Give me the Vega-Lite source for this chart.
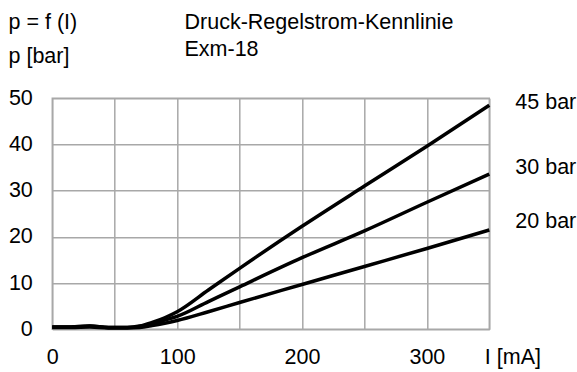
{
  "$schema": "https://vega.github.io/schema/vega-lite/v6.json",
  "autosize": "none",
  "width": 437,
  "height": 231,
  "padding": {"left": 52.3, "top": 98.3, "right": 87.7, "bottom": 42.7},
  "background": "white",
  "config": {
    "font": "Liberation Sans",
    "view": {"stroke": "#a8a8a8", "strokeWidth": 1.5},
    "axis": {"labelFont": "Liberation Sans", "titleFont": "Liberation Sans", "labelColor": "black", "titleColor": "black", "labelFontSize": 21.5, "titleFontSize": 21.5, "titleFontWeight": "normal", "domain": false, "ticks": false, "gridColor": "#a8a8a8", "gridWidth": 1.5, "gridOpacity": 1}
  },
  "resolve": {"scale": {"y": "independent"}, "axis": {"y": "independent"}},
  "datasets": {
    "curves": [
      {"I": 0, "p": 0.5, "s": "45 bar"}, {"I": 15, "p": 0.5, "s": "45 bar"}, {"I": 30, "p": 0.7, "s": "45 bar"}, {"I": 45, "p": 0.4, "s": "45 bar"}, {"I": 60, "p": 0.4, "s": "45 bar"}, {"I": 70, "p": 0.7, "s": "45 bar"}, {"I": 80, "p": 1.5, "s": "45 bar"}, {"I": 90, "p": 2.5, "s": "45 bar"}, {"I": 100, "p": 3.8, "s": "45 bar"}, {"I": 125, "p": 8.5, "s": "45 bar"}, {"I": 150, "p": 13.2, "s": "45 bar"}, {"I": 200, "p": 22.3, "s": "45 bar"}, {"I": 250, "p": 31.0, "s": "45 bar"}, {"I": 300, "p": 39.6, "s": "45 bar"}, {"I": 350, "p": 48.5, "s": "45 bar"},
      {"I": 0, "p": 0.5, "s": "30 bar"}, {"I": 15, "p": 0.5, "s": "30 bar"}, {"I": 30, "p": 0.7, "s": "30 bar"}, {"I": 45, "p": 0.4, "s": "30 bar"}, {"I": 60, "p": 0.4, "s": "30 bar"}, {"I": 70, "p": 0.6, "s": "30 bar"}, {"I": 80, "p": 1.2, "s": "30 bar"}, {"I": 90, "p": 2.0, "s": "30 bar"}, {"I": 100, "p": 2.8, "s": "30 bar"}, {"I": 125, "p": 6.0, "s": "30 bar"}, {"I": 150, "p": 9.2, "s": "30 bar"}, {"I": 200, "p": 15.5, "s": "30 bar"}, {"I": 250, "p": 21.3, "s": "30 bar"}, {"I": 300, "p": 27.5, "s": "30 bar"}, {"I": 350, "p": 33.6, "s": "30 bar"},
      {"I": 0, "p": 0.4, "s": "20 bar"}, {"I": 15, "p": 0.4, "s": "20 bar"}, {"I": 30, "p": 0.5, "s": "20 bar"}, {"I": 45, "p": 0.3, "s": "20 bar"}, {"I": 60, "p": 0.3, "s": "20 bar"}, {"I": 70, "p": 0.4, "s": "20 bar"}, {"I": 80, "p": 0.8, "s": "20 bar"}, {"I": 90, "p": 1.3, "s": "20 bar"}, {"I": 100, "p": 1.9, "s": "20 bar"}, {"I": 125, "p": 3.8, "s": "20 bar"}, {"I": 150, "p": 5.8, "s": "20 bar"}, {"I": 200, "p": 9.7, "s": "20 bar"}, {"I": 250, "p": 13.6, "s": "20 bar"}, {"I": 300, "p": 17.5, "s": "20 bar"}, {"I": 350, "p": 21.5, "s": "20 bar"}
    ],
    "labels": [
      {"I": 350, "p": 49.0, "s": "45 bar"},
      {"I": 350, "p": 34.9, "s": "30 bar"},
      {"I": 350, "p": 23.2, "s": "20 bar"}
    ]
  },
  "layer": [
    {
      "data": {"name": "curves"},
      "mark": {"type": "line", "interpolate": "monotone", "color": "black", "strokeWidth": 3.5, "clip": false},
      "encoding": {
        "x": {"field": "I", "type": "quantitative", "scale": {"domain": [0, 350], "nice": false, "zero": false},
          "axis": {"values": [0, 50, 100, 150, 200, 250, 300, 350], "labelExpr": "datum.value % 100 == 0 && datum.value < 350 ? datum.label : ''", "labelPadding": 17, "labelFlush": false, "title": "I [mA]", "titleAnchor": "start", "titleAlign": "left", "titleBaseline": "top", "titleX": 432, "titleY": 17}},
        "y": {"field": "p", "type": "quantitative", "scale": {"domain": [0, 50], "nice": false},
          "axis": {"values": [0, 10, 20, 30, 40, 50], "labelPadding": 20, "title": ["p = f (I)", "p [bar]"], "titleAngle": 0, "titleAlign": "left", "titleBaseline": "alphabetic", "titleX": -44.3, "titleY": -70.3, "titleLineHeight": 34}},
        "detail": {"field": "s"}
      }
    },
    {
      "data": {"name": "labels"},
      "mark": {"type": "text", "align": "left", "baseline": "middle", "dx": 26, "fontSize": 21.5, "font": "Liberation Sans", "color": "black"},
      "encoding": {
        "x": {"field": "I", "type": "quantitative"},
        "y": {"field": "p", "type": "quantitative", "scale": {"domain": [0, 50], "nice": false},
          "axis": {"orient": "right", "labels": false, "grid": false, "title": ["Druck-Regelstrom-Kennlinie", "Exm-18"], "titleAngle": 0, "titleAlign": "left", "titleBaseline": "alphabetic", "titleX": -305.3, "titleY": -70, "titleLineHeight": 27}},
        "text": {"field": "s"}
      }
    }
  ]
}
